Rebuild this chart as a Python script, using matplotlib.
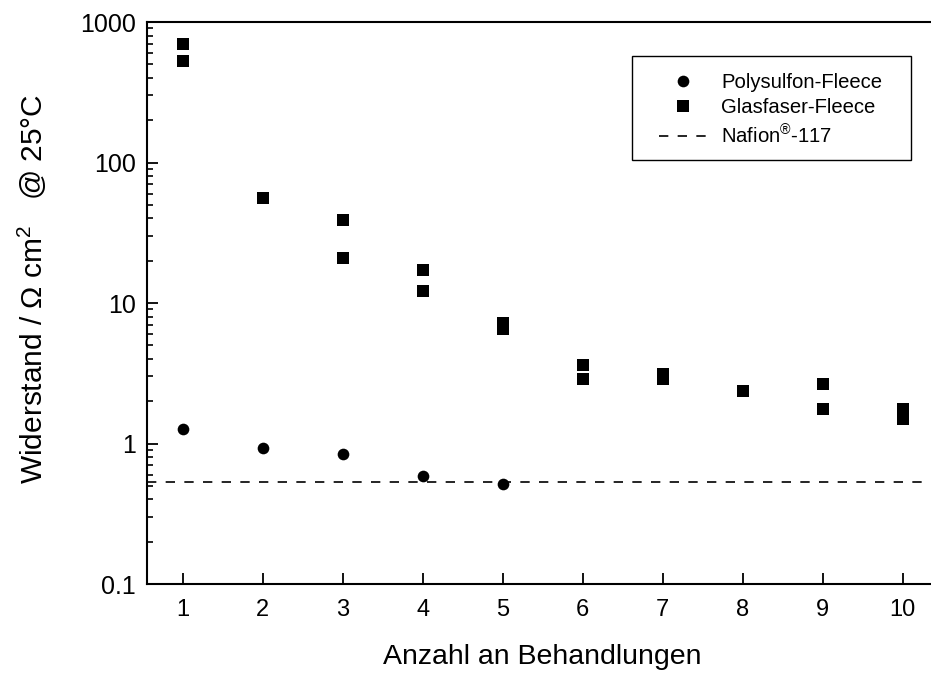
"""
Widerstand der Fleece-Membranen in Abhängigkeit von der
Anzahl an Behandlungen (log-Skala), Vergleich mit Nafion-117.
"""

import matplotlib
matplotlib.use("Agg")
import matplotlib.pyplot as plt
from matplotlib.patches import Rectangle

plt.rcParams["font.family"] = ["Liberation Sans", "DejaVu Sans"]
plt.rcParams["mathtext.fontset"] = "custom"
plt.rcParams["mathtext.rm"] = "Liberation Sans"
plt.rcParams["mathtext.it"] = "Liberation Sans"
plt.rcParams["mathtext.default"] = "regular"

# =========================================================
# DATEN
# =========================================================

n_poly = [1, 2, 3, 4, 5]
r_poly = [1.26, 0.925, 0.84, 0.587, 0.517]

n_glas = [1, 1, 2, 3, 3, 4, 4, 5, 5, 6, 6, 7, 7, 8, 9, 9, 10, 10]
r_glas = [693, 531, 55.6, 39.2, 20.9, 17.1, 12.2, 7.17, 6.5,
          3.64, 2.86, 3.12, 2.89, 2.36, 2.65, 1.75, 1.77, 1.49]

r_nafion = 0.532

x_ticks = list(range(1, 11))
y_ticks = [0.1, 1, 10, 100, 1000]
y_ticklabels = ["0.1", "1", "10", "100", "1000"]

# =========================================================
# PLOT
# =========================================================

fig = plt.figure(figsize=(9.31, 6.75), dpi=100)
ax = fig.add_axes([0.1576, 0.1348, 0.8507, 0.8326])

ax.plot(
    n_poly, r_poly,
    linestyle="none", marker="o", markersize=8.4,
    markeredgewidth=0, color="black",
    label="Polysulfon-Fleece"
)
ax.plot(
    n_glas, r_glas,
    linestyle="none", marker="s", markersize=8.0,
    markeredgewidth=0, color="black",
    label="Glasfaser-Fleece"
)
ax.axhline(
    r_nafion,
    color="black", linewidth=1.2,
    linestyle=(0, (5.6, 5.6)),
    label="Nafion$^{®}$-117"
)

ax.set_yscale("log")
ax.set_ylim(0.1, 1000)
ax.set_xlim(0.55, 10.45)

ax.set_xticks(x_ticks)
ax.set_yticks(y_ticks)
ax.set_yticklabels(y_ticklabels)

for side in ["left", "bottom", "top", "right"]:
    ax.spines[side].set_linewidth(1.5)

ax.tick_params(
    axis="both", which="major", direction="in",
    length=7.7, width=1.3,
    top=False, right=False
)
ax.tick_params(axis="x", labelsize=17, pad=11)
ax.tick_params(axis="y", labelsize=18, pad=8)
ax.tick_params(
    axis="y", which="minor", direction="in",
    length=4.5, width=1.2, right=False
)
ax.tick_params(axis="x", which="minor", bottom=False)

ax.set_xlabel("Anzahl an Behandlungen", fontsize=20.5, labelpad=16)
ax.set_ylabel(
    r"Widerstand / $\Omega$ cm$^2$   @ 25°C",
    fontsize=21.5, labelpad=22
)
ax.yaxis.label.set_y(0.525)

# Legende ohne eigenen Rahmen, Rahmen separat als Rechteck
leg = ax.legend(
    loc="upper left",
    bbox_to_anchor=(659 / 931, 1 - 73 / 675),
    bbox_transform=fig.transFigure,
    borderaxespad=0,
    borderpad=0,
    fontsize=14.6,
    frameon=False,
    handlelength=2.37,
    handletextpad=0.69,
    labelspacing=0.32,
)

fig.add_artist(Rectangle(
    (632 / 931, 1 - 160 / 675),
    (911 - 632) / 931, (160 - 56) / 675,
    transform=fig.transFigure,
    fill=False, edgecolor="black", linewidth=1.0
))

plt.savefig("out.png", dpi=100)
